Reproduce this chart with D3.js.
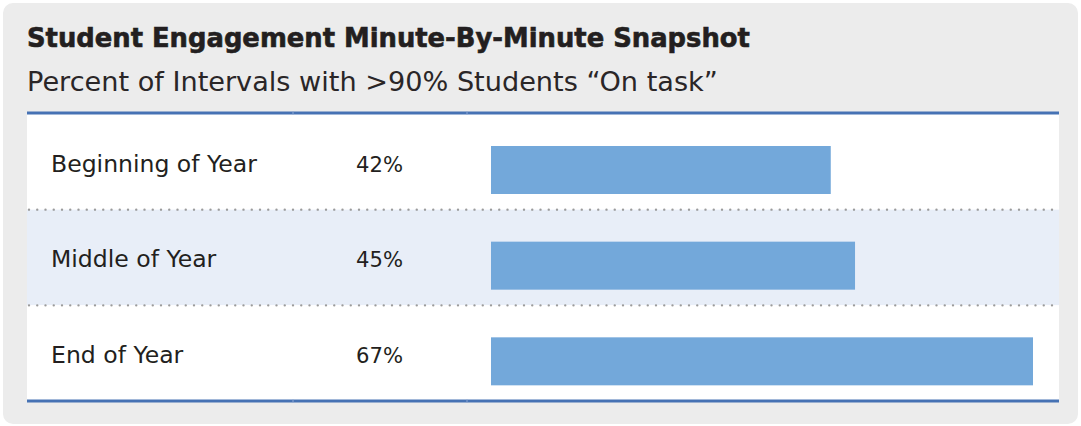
<!DOCTYPE html>
<html><head><meta charset="utf-8">
<script src="https://cdn.jsdelivr.net/npm/d3@7"></script>
<style>html,body{margin:0;padding:0;background:#fff;}svg{display:block;}</style>
</head><body>
<svg id="c" width="1081" height="426"></svg>
<script>
const title = "Student Engagement Minute-By-Minute Snapshot";
const subtitle = "Percent of Intervals with >90% Students \u201COn task\u201D";
const categories = ["Beginning of Year", "Middle of Year", "End of Year"];
const values = [42, 45, 67];
const valueLabels = ["42%", "45%", "67%"];

const svg = d3.select("#c");
const font = "'DejaVu Sans', 'Open Sans', sans-serif";

svg.append("rect").attr("x",3).attr("y",3).attr("width",1075).attr("height",421)
  .attr("rx",10).attr("fill","#ececec");

const tableL = 27, tableR = 1059, tableT = 114, tableB = 401;
const y = d3.scaleBand().domain(categories).range([tableT, tableB]).paddingInner(0).paddingOuter(0);
const x = d3.scaleLinear().domain([0, 67]).range([491, 1033]);

svg.append("rect").attr("x",tableL).attr("y",tableT).attr("width",tableR-tableL).attr("height",tableB-tableT).attr("fill","#fff");

const rows = svg.selectAll("g.row").data(categories).join("g").attr("class","row");
rows.append("rect").attr("x",tableL).attr("width",tableR-tableL)
  .attr("y",d=>y(d)).attr("height",y.bandwidth())
  .attr("fill",(d,i)=> i===1 ? "#e8eef8" : "#ffffff");

categories.slice(1).forEach(c=>{
  svg.append("line").attr("x1",tableL+2).attr("x2",tableR).attr("y1",y(c)).attr("y2",y(c))
    .attr("stroke","#9b9b9b").attr("stroke-width",2.4).attr("stroke-dasharray","0 8.25").attr("stroke-linecap","round");
});

const bh = 48;
rows.append("rect").attr("x",x(0)).attr("y",d=>y(d)+32)
  .attr("width",(d,i)=>x(values[i])-x(0)).attr("height",bh).attr("fill","#73a8da");

const labs = rows.append("text").attr("x",51).attr("y",d=>y(d)+57.5)
  .attr("font-family",font).attr("font-size",21).attr("fill","#231f20").text(d=>d);
const vals = rows.append("text").attr("x",356).attr("y",d=>y(d)+57.5)
  .attr("font-family",font).attr("font-size",21).attr("fill","#231f20").text((d,i)=>valueLabels[i]);

[tableT-1, tableB].forEach(yy=>{
  svg.append("line").attr("x1",tableL).attr("x2",tableR).attr("y1",yy).attr("y2",yy)
    .attr("stroke","#4672b4").attr("stroke-width",3);
});
[293, 467].forEach(xx=>{
  [tableT-1, tableB].forEach(yy=>{
    svg.append("line").attr("x1",xx).attr("x2",xx).attr("y1",yy-1.5).attr("y2",yy+1.5)
      .attr("stroke","#8aa5d2").attr("stroke-width",1);
  });
});

const t = svg.append("text").attr("x",27).attr("y",47).attr("font-family",font)
  .attr("font-weight",700).attr("font-size",24).attr("fill","#231f20")
  .attr("stroke","#231f20").attr("stroke-width",0.6).text(title);
const st = svg.append("text").attr("x",27).attr("y",90.5).attr("font-family",font)
  .attr("font-weight",400).attr("font-size",25).attr("fill","#2a2627").text(subtitle);

function fit(sel, target){
  sel.each(function(){
    const n = this; const fs = +n.getAttribute("font-size");
    const len = n.getComputedTextLength();
    n.setAttribute("font-size", (fs*target/len).toFixed(2));
  });
}
fit(t, 723); fit(st, 691);
fit(labs.filter((d,i)=>i===0), 206);
labs.attr("font-size", labs.filter((d,i)=>i===0).attr("font-size"));
fit(vals.filter((d,i)=>i===0), 47);
vals.attr("font-size", vals.filter((d,i)=>i===0).attr("font-size"));
</script>
</body></html>
